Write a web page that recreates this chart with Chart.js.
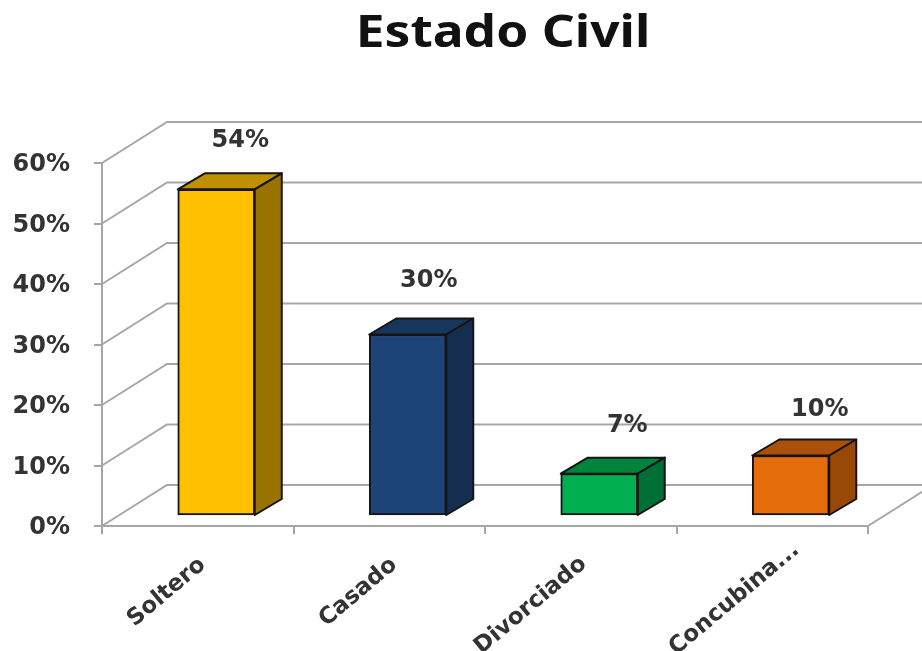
<!DOCTYPE html>
<html>
<head>
<meta charset="utf-8">
<title>Estado Civil</title>
<style>
	html, body { margin: 0; padding: 0; background: #fff; }
	canvas { display: block; filter: blur(0.6px); }
</style>
<script src="https://cdn.jsdelivr.net/npm/chart.js@4/dist/chart.umd.min.js"></script>
</head>
<body>
<canvas id="chart" width="922" height="651"></canvas>
<script>
const titleText = "Estado Civil";
const categories = ["Soltero", "Casado", "Divorciado", "Concubina..."];
const values = [54, 30, 7, 10];
const frontColors = ["#FFC000", "#1C4478", "#00B050", "#E46C0A"];
const topColors = ["#BF9000", "#17365D", "#00843C", "#AB5108"];
const sideColors = ["#997300", "#152E50", "#006F35", "#984807"];

// small hand nudges for the value labels and category labels
const labelShiftX = [24, 21, 28, 29];
const labelShiftY = [-49, -54, -48, -46];
const catShiftX = [5, 5, 3, 24];
const catShiftY = [36, 36, 35, 21];

const textColor = "#333";
const lineColor = "#a6a6a6";
const wallDx = 65, wallDy = -41;   // back wall relative to the axes
const barDx = 18.5, barDy = -10;   // bars stand a bit into the floor
const depthDx = 27, depthDy = -16; // depth of one bar

function shape(ctx, points, fill) {
	ctx.beginPath();
	points.forEach((p, i) => i ? ctx.lineTo(p[0], p[1]) : ctx.moveTo(p[0], p[1]));
	ctx.closePath();
	ctx.fillStyle = fill;
	ctx.fill();
	ctx.stroke();
}

const box3d = {
	id: "box3d",
	beforeDatasetsDraw(chart) {
		const ctx = chart.ctx;
		const y = chart.scales.y;
		const area = chart.chartArea;

		// walls and floor
		ctx.save();
		ctx.strokeStyle = lineColor;
		ctx.lineWidth = 2;
		y.ticks.forEach(tick => {
			const py = y.getPixelForValue(tick.value);
			ctx.beginPath();
			ctx.moveTo(area.left, py);
			ctx.lineTo(area.left + wallDx, py + wallDy);
			ctx.lineTo(chart.width, py + wallDy);
			ctx.stroke();
		});
		ctx.beginPath();
		ctx.moveTo(area.right, area.bottom);
		ctx.lineTo(area.right + wallDx, area.bottom + wallDy);
		ctx.stroke();
		ctx.restore();

		// bars are drawn by the library inside this shift
		ctx.save();
		ctx.translate(barDx, barDy);
		ctx.strokeStyle = "#141414";
		ctx.lineWidth = 2;
		ctx.lineJoin = "round";
		chart.getDatasetMeta(0).data.forEach((bar, i) => {
			const half = bar.width / 2;
			const l = bar.x - half, r = bar.x + half;
			shape(ctx, [[l, bar.y], [l + depthDx, bar.y + depthDy], [r + depthDx, bar.y + depthDy], [r, bar.y]], topColors[i]);
			shape(ctx, [[r, bar.y], [r + depthDx, bar.y + depthDy], [r + depthDx, bar.base + depthDy], [r, bar.base]], sideColors[i]);
		});
	},
	afterDatasetsDraw(chart) {
		const ctx = chart.ctx;
		ctx.restore();

		// value labels
		ctx.save();
		ctx.font = "bold 24px 'DejaVu Sans'";
		ctx.fillStyle = textColor;
		ctx.textAlign = "center";
		ctx.textBaseline = "middle";
		chart.getDatasetMeta(0).data.forEach((bar, i) => {
			ctx.fillText(values[i] + "%", bar.x + barDx + labelShiftX[i], bar.y + barDy + labelShiftY[i]);
		});

		// category labels, the last one is pushed up to fit in the original
		ctx.font = "bold 23px 'DejaVu Sans'";
		ctx.textAlign = "right";
		categories.forEach((name, i) => {
			ctx.save();
			ctx.translate(chart.scales.x.getPixelForTick(i) + catShiftX[i], chart.chartArea.bottom + catShiftY[i]);
			ctx.rotate(-40 * Math.PI / 180);
			ctx.fillText(name, 0, 0);
			ctx.restore();
		});

		// title sits right of the canvas centre in the original, and is stretched wide
		ctx.textAlign = "center";
		ctx.font = "bold 44px 'Noto Sans'";
		ctx.fillStyle = "#111";
		ctx.translate(503, 34);
		ctx.scale(1.17, 1);
		ctx.fillText(titleText, 0, 0);
		ctx.restore();
	}
};

new Chart(document.getElementById("chart").getContext("2d"), {
	type: "bar",
	data: {
		labels: categories,
		datasets: [{
			data: values,
			backgroundColor: frontColors,
			borderColor: "#141414",
			borderWidth: 2,
			borderSkipped: false,
			barThickness: 77
		}]
	},
	plugins: [box3d],
	options: {
		responsive: false,
		animation: false,
		layout: { padding: { top: 163, right: 54, left: 0, bottom: 0 } },
		plugins: {
			legend: { display: false },
			tooltip: { enabled: false }
		},
		scales: {
			x: {
				afterFit(scale) { scale.height = 125; },
				border: { color: lineColor, width: 2 },
				grid: { drawOnChartArea: false, color: lineColor, lineWidth: 2, tickLength: 8 },
				ticks: { display: false }
			},
			y: {
				min: 0,
				max: 60,
				afterFit(scale) { scale.width = 102; },
				border: { color: lineColor, width: 2 },
				grid: { drawOnChartArea: false, color: lineColor, lineWidth: 2, tickLength: 8 },
				ticks: {
					stepSize: 10,
					color: textColor,
					padding: 24,
					labelOffset: 2,
					font: { family: "'DejaVu Sans'", size: 24, weight: "bold" },
					callback: value => value + "%"
				}
			}
		}
	}
});
</script>
</body>
</html>
